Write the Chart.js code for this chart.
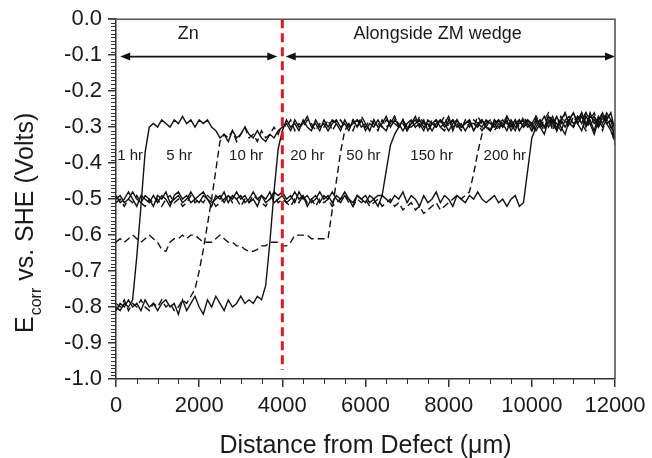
<!DOCTYPE html>
<html><head><meta charset="utf-8">
<script src="https://cdn.jsdelivr.net/npm/chart.js@4/dist/chart.umd.min.js"></script>
<style>html,body{margin:0;padding:0;background:#fff;}canvas{display:block;}</style>
</head><body>
<canvas id="c" width="652" height="458"></canvas>
<script>
// ---------- data (distance in µm, Ecorr in V vs SHE) ----------
const distance = [0,100,200,300,400,500,600,700,800,900,1000,1100,1200,1300,1400,1500,1600,1700,1800,1900,
2000,2100,2200,2300,2400,2500,2600,2700,2800,2900,3000,3100,3200,3300,3400,3500,3600,3700,3800,3900,
4000,4100,4200,4300,4400,4500,4600,4700,4800,4900,5000,5100,5200,5300,5400,5500,5600,5700,5800,5900,
6000,6100,6200,6300,6400,6500,6600,6700,6800,6900,7000,7100,7200,7300,7400,7500,7600,7700,7800,7900,
8000,8100,8200,8300,8400,8500,8600,8700,8800,8900,9000,9100,9200,9300,9400,9500,9600,9700,9800,9900,
10000,10100,10200,10300,10400,10500,10600,10700,10800,10900,11000,11100,11200,11300,11400,11500,11600,11700,11800,11900,12000];

const hr1 = [-0.80,-0.81,-0.79,-0.80,-0.78,-0.66,-0.52,-0.37,-0.30,
-0.29,-0.30,-0.28,-0.29,-0.30,-0.28,-0.29,-0.27,-0.29,-0.28,-0.30,-0.28,-0.29,-0.28,-0.30,-0.31,
-0.33,-0.32,-0.34,-0.31,-0.33,-0.32,-0.30,-0.32,-0.33,-0.31,-0.33,-0.34,-0.32,-0.33,-0.31,-0.30,
-0.29,-0.31,-0.28,-0.30,-0.29,-0.27,-0.30,-0.29,-0.31,-0.28,
-0.30,-0.28,-0.29,-0.31,-0.28,-0.30,-0.29,-0.28,-0.30,-0.29,
-0.31,-0.28,-0.30,-0.29,-0.27,-0.30,-0.28,-0.29,-0.31,-0.29,
-0.28,-0.30,-0.29,-0.31,-0.28,-0.29,-0.30,-0.28,-0.29,-0.31,
-0.29,-0.28,-0.30,-0.29,-0.28,-0.31,-0.29,-0.30,-0.28,-0.29,
-0.30,-0.28,-0.29,-0.31,-0.28,-0.30,-0.29,-0.28,-0.30,-0.29,
-0.31,-0.29,-0.27,-0.30,-0.28,-0.29,-0.31,-0.28,-0.27,-0.29,
-0.28,-0.26,-0.29,-0.27,-0.28,-0.30,-0.27,-0.29,-0.28,-0.33];

const hr5 = [-0.79,-0.80,-0.78,-0.81,-0.79,-0.80,-0.78,-0.80,-0.81,-0.79,-0.80,-0.78,-0.80,-0.79,-0.81,-0.80,-0.78,-0.79,-0.77,
-0.75,-0.70,-0.64,-0.57,-0.50,-0.42,-0.34,
-0.32,-0.33,-0.31,-0.34,-0.32,-0.30,-0.33,-0.32,-0.34,-0.31,-0.33,-0.32,-0.30,-0.32,-0.29,
-0.30,-0.28,-0.31,-0.29,-0.30,-0.28,-0.29,-0.31,-0.29,-0.30,
-0.28,-0.31,-0.29,-0.28,-0.30,-0.29,-0.31,-0.28,-0.29,-0.30,
-0.28,-0.29,-0.31,-0.28,-0.30,-0.29,-0.27,-0.30,-0.28,-0.31,
-0.29,-0.28,-0.30,-0.28,-0.31,-0.29,-0.28,-0.30,-0.31,-0.28,
-0.30,-0.29,-0.31,-0.28,-0.30,-0.28,-0.29,-0.31,-0.29,-0.28,
-0.29,-0.31,-0.28,-0.29,-0.30,-0.28,-0.31,-0.29,-0.28,-0.30,
-0.28,-0.30,-0.29,-0.27,-0.31,-0.28,-0.29,-0.26,-0.29,-0.30,
-0.27,-0.29,-0.31,-0.28,-0.26,-0.29,-0.31,-0.27,-0.30,-0.35];

const hr10 = [-0.81,-0.79,-0.80,-0.78,-0.80,-0.79,-0.81,-0.78,-0.80,-0.79,
-0.81,-0.79,-0.78,-0.80,-0.79,-0.82,-0.78,-0.81,-0.79,-0.77,
-0.80,-0.82,-0.78,-0.80,-0.77,-0.79,-0.81,-0.78,-0.80,-0.79,
-0.77,-0.79,-0.78,-0.79,-0.77,-0.78,
-0.74,-0.62,-0.48,-0.36,-0.31,
-0.28,-0.30,-0.29,-0.31,-0.28,-0.30,-0.31,-0.28,-0.30,-0.29,
-0.31,-0.29,-0.28,-0.30,-0.29,-0.31,-0.28,-0.30,-0.28,-0.31,
-0.29,-0.30,-0.28,-0.30,-0.31,-0.28,-0.29,-0.30,-0.28,-0.30,
-0.30,-0.29,-0.28,-0.30,-0.29,-0.31,-0.29,-0.28,-0.30,-0.29,
-0.28,-0.30,-0.29,-0.31,-0.29,-0.29,-0.30,-0.28,-0.30,-0.31,
-0.28,-0.29,-0.30,-0.28,-0.31,-0.29,-0.28,-0.30,-0.29,-0.31,
-0.29,-0.28,-0.30,-0.29,-0.27,-0.31,-0.28,-0.30,-0.28,-0.26,
-0.29,-0.27,-0.30,-0.26,-0.29,-0.28,-0.30,-0.28,-0.26,-0.31];

const hr20 = [-0.62,-0.61,-0.62,-0.61,-0.60,-0.61,-0.62,-0.61,-0.60,-0.61,
-0.62,-0.64,-0.645,-0.62,-0.61,-0.61,-0.60,-0.61,-0.60,-0.60,
-0.61,-0.62,-0.62,-0.62,-0.61,-0.60,-0.61,-0.62,-0.62,-0.63,
-0.63,-0.64,-0.645,-0.645,-0.64,-0.63,-0.63,-0.62,-0.62,-0.62,
-0.63,-0.63,-0.62,-0.60,-0.60,-0.60,-0.60,-0.61,-0.61,-0.61,
-0.61,-0.61,
-0.53,-0.45,-0.37,-0.31,
-0.29,-0.28,-0.30,-0.27,-0.29,-0.31,-0.28,-0.29,-0.30,-0.28,
-0.29,-0.27,-0.30,-0.29,-0.31,-0.28,-0.30,-0.27,-0.29,-0.30,
-0.28,-0.30,-0.29,-0.27,-0.30,-0.28,-0.29,-0.31,-0.28,-0.29,
-0.30,-0.27,-0.29,-0.30,-0.28,-0.31,-0.29,-0.28,-0.30,-0.29,
-0.28,-0.30,-0.27,-0.29,-0.31,-0.28,-0.30,-0.28,-0.26,-0.29,
-0.30,-0.27,-0.29,-0.28,-0.30,-0.27,-0.28,-0.26,-0.30,-0.27,
-0.29,-0.26,-0.28,-0.30,-0.32];

const hr50 = [-0.50,-0.49,-0.51,-0.50,-0.48,-0.50,-0.51,-0.49,-0.50,-0.52,
-0.49,-0.50,-0.48,-0.51,-0.50,-0.49,-0.51,-0.50,-0.48,-0.50,
-0.51,-0.49,-0.50,-0.52,-0.49,-0.50,-0.48,-0.51,-0.49,-0.50,
-0.49,-0.51,-0.50,-0.48,-0.50,-0.49,-0.51,-0.50,-0.48,-0.49,
-0.48,-0.50,-0.49,-0.51,-0.48,-0.50,-0.49,-0.51,-0.50,-0.48,
-0.50,-0.49,-0.51,-0.49,-0.50,-0.48,-0.50,-0.51,-0.49,-0.50,
-0.51,-0.49,-0.50,-0.49,
-0.49,-0.42,-0.35,-0.32,
-0.30,-0.28,-0.31,-0.29,-0.27,-0.30,-0.28,-0.31,-0.29,-0.28,
-0.30,-0.29,-0.27,-0.31,-0.28,-0.30,-0.29,-0.28,-0.31,-0.29,
-0.28,-0.30,-0.31,-0.29,-0.28,-0.30,-0.27,-0.29,-0.31,-0.28,
-0.30,-0.28,-0.29,-0.27,-0.30,-0.32,-0.28,-0.29,-0.27,-0.30,
-0.32,-0.28,-0.26,-0.29,-0.31,-0.27,-0.29,-0.32,-0.28,-0.26,
-0.29,-0.31,-0.34];

const hr150 = [-0.51,-0.50,-0.52,-0.50,-0.51,-0.49,-0.51,-0.52,-0.50,-0.51,
-0.50,-0.52,-0.50,-0.49,-0.51,-0.50,-0.52,-0.51,-0.49,-0.51,
-0.50,-0.51,-0.49,-0.50,-0.52,-0.51,-0.50,-0.49,-0.51,-0.50,
-0.52,-0.50,-0.51,-0.49,-0.50,-0.51,-0.52,-0.50,-0.49,-0.51,
-0.50,-0.51,-0.52,-0.50,-0.51,-0.49,-0.51,-0.50,-0.52,-0.50,
-0.51,-0.50,-0.52,-0.51,-0.50,-0.49,-0.51,-0.52,-0.50,-0.51,
-0.50,-0.52,-0.51,-0.50,-0.52,-0.51,-0.50,-0.52,-0.51,-0.53,
-0.52,-0.51,-0.53,-0.52,-0.54,-0.53,-0.52,-0.51,-0.53,-0.52,
-0.51,-0.50,-0.49,-0.50,-0.49,
-0.48,-0.43,-0.37,-0.32,
-0.29,-0.31,-0.28,-0.30,-0.29,-0.27,-0.30,-0.28,-0.31,-0.29,
-0.28,-0.30,-0.27,-0.29,-0.31,-0.28,-0.30,-0.27,-0.29,-0.28,
-0.30,-0.27,-0.29,-0.26,-0.30,-0.28,-0.27,-0.30,-0.28,-0.27,
-0.30,-0.33];

const hr200 = [-0.49,-0.51,-0.50,-0.48,-0.50,-0.52,-0.49,-0.50,-0.51,-0.49,
-0.51,-0.49,-0.50,-0.52,-0.49,-0.48,-0.50,-0.49,-0.51,-0.50,
-0.49,-0.48,-0.50,-0.51,-0.50,-0.49,-0.51,-0.49,-0.50,-0.48,
-0.50,-0.49,-0.51,-0.50,-0.52,-0.49,-0.50,-0.48,-0.51,-0.50,
-0.49,-0.51,-0.50,-0.48,-0.50,-0.49,-0.52,-0.50,-0.49,-0.51,
-0.49,-0.50,-0.48,-0.50,-0.51,-0.49,-0.50,-0.52,-0.49,-0.50,
-0.49,-0.51,-0.50,-0.52,-0.49,-0.50,-0.51,-0.49,-0.50,-0.48,
-0.51,-0.49,-0.50,-0.52,-0.49,-0.51,-0.50,-0.48,-0.51,-0.49,
-0.50,-0.52,-0.49,-0.50,-0.51,-0.49,-0.50,-0.48,-0.50,-0.51,
-0.50,-0.49,-0.51,-0.50,-0.52,-0.50,-0.49,-0.52,
-0.51,-0.42,-0.33,-0.30,
-0.28,-0.30,-0.27,-0.29,-0.31,-0.28,-0.26,-0.29,-0.30,-0.27,
-0.29,-0.26,-0.28,-0.31,-0.27,-0.29,-0.26,-0.28,-0.30];

const seriesNames = ['1 hr','5 hr','10 hr','20 hr','50 hr','150 hr','200 hr'];
const seriesValues = [hr1, hr5, hr10, hr20, hr50, hr150, hr200];
const seriesDashed = [false, true, false, true, false, true, false];

// annotations (data units)
const hourLabelX = [340, 1520, 3130, 4600, 5950, 7590, 9350];
const hourLabelY = -0.38;
const regionLabels = ['Zn', 'Alongside ZM wedge'];
const regionLabelX = [1735, 7735];
const regionLabelY = -0.042;
const arrowY = -0.104;
const arrowSpans = [[100, 3880], [4080, 12000]];
const boundaryX = 4000;
const boundaryY = [0, -0.975];

const FONT = "'Liberation Sans', Arial, Helvetica, sans-serif";
const INK = '#1a1a1a';

const decor = {
  id: 'decor',
  afterDatasetsDraw(chart) {
    const ctx = chart.ctx, xs = chart.scales.x, ys = chart.scales.y;
    ctx.save();
    ctx.fillStyle = INK;
    ctx.font = '15px ' + FONT;
    ctx.textAlign = 'center'; ctx.textBaseline = 'middle';
    seriesNames.forEach((n, i) => ctx.fillText(n, xs.getPixelForValue(hourLabelX[i]), ys.getPixelForValue(hourLabelY)));
    ctx.font = '18px ' + FONT;
    regionLabels.forEach((n, i) => ctx.fillText(n, xs.getPixelForValue(regionLabelX[i]), ys.getPixelForValue(regionLabelY)));
    ctx.strokeStyle = '#111'; ctx.fillStyle = '#111'; ctx.lineWidth = 1.6;
    const ay = ys.getPixelForValue(arrowY);
    const head = (x, dir) => {
      ctx.beginPath();
      ctx.moveTo(x, ay);
      ctx.lineTo(x - dir * 10, ay - 4);
      ctx.lineTo(x - dir * 10, ay + 4);
      ctx.closePath(); ctx.fill();
    };
    arrowSpans.forEach(([s, e]) => {
      const x1 = xs.getPixelForValue(s), x2 = xs.getPixelForValue(e);
      ctx.beginPath(); ctx.moveTo(x1 + 4, ay); ctx.lineTo(x2 - 4, ay); ctx.stroke();
      head(x1, -1); head(x2, 1);
    });
    ctx.strokeStyle = '#e3191f'; ctx.lineWidth = 3; ctx.setLineDash([9, 5]);
    const bx = xs.getPixelForValue(boundaryX);
    ctx.beginPath(); ctx.moveTo(bx, ys.getPixelForValue(boundaryY[0])); ctx.lineTo(bx, ys.getPixelForValue(boundaryY[1])); ctx.stroke();
    ctx.setLineDash([]);
    ctx.restore();
  },
  afterDraw(chart) {
    const ctx = chart.ctx, xs = chart.scales.x, ys = chart.scales.y, a = chart.chartArea;
    ctx.save();
    ctx.strokeStyle = '#555'; ctx.lineWidth = 1.6;
    ctx.beginPath();
    ctx.moveTo(a.left - 8, a.top); ctx.lineTo(a.right, a.top); ctx.lineTo(a.right, a.bottom);
    ctx.stroke();
    ctx.strokeStyle = '#333'; ctx.lineWidth = 1;
    for (let k = 0; k <= 100; k++) {
      if (k % 10 === 0) continue;
      const py = Math.round(ys.getPixelForValue(-k / 100)) + 0.5;
      ctx.beginPath(); ctx.moveTo(a.left - 5, py); ctx.lineTo(a.left, py); ctx.stroke();
    }
    for (let v = 500; v < 12000; v += 500) {
      if (v % 2000 === 0) continue;
      const px = Math.round(xs.getPixelForValue(v)) + 0.5;
      ctx.beginPath(); ctx.moveTo(px, a.bottom); ctx.lineTo(px, a.bottom + 5); ctx.stroke();
    }
    ctx.fillStyle = INK;
    ctx.textBaseline = 'alphabetic';
    ctx.font = '25px ' + FONT; ctx.textAlign = 'center';
    ctx.fillText('Distance from Defect (\u03bcm)', (a.left + a.right) / 2, 453);
    ctx.translate(33, 333); ctx.rotate(-Math.PI / 2);
    ctx.textAlign = 'left';
    ctx.font = '25px ' + FONT;
    ctx.fillText('E', 0, 0);
    let w = ctx.measureText('E').width;
    ctx.font = '16px ' + FONT;
    ctx.fillText('corr', w + 1, 8);
    w += 1 + ctx.measureText('corr').width;
    ctx.font = '25px ' + FONT;
    ctx.fillText(' vs. SHE (Volts)', w, 0);
    ctx.restore();
  }
};

new Chart(document.getElementById('c'), {
  type: 'line',
  data: {
    datasets: seriesValues.map((vals, i) => ({
      label: seriesNames[i],
      data: distance.map((x, j) => ({ x: x, y: vals[j] })),
      borderColor: '#111',
      borderWidth: 1.4,
      borderDash: seriesDashed[i] ? [7, 4] : [],
      pointRadius: 0,
      tension: 0,
      fill: false
    }))
  },
  options: {
    responsive: false,
    animation: false,
    devicePixelRatio: 1,
    layout: { padding: { left: 0, right: 37, top: 15, bottom: 0 } },
    plugins: { legend: { display: false }, tooltip: { enabled: false } },
    scales: {
      x: {
        type: 'linear', min: 0, max: 12000,
        ticks: { stepSize: 2000, callback: v => String(v), font: { family: FONT, size: 22 }, color: INK, padding: 6, maxRotation: 0, autoSkip: false },
        grid: { drawOnChartArea: false, drawTicks: true, tickLength: 8, color: '#333', lineWidth: 1.5 },
        border: { display: true, color: '#333', width: 1.5 },
        afterFit: s => { s.height = 79; }
      },
      y: {
        type: 'linear', min: -1, max: 0,
        ticks: { stepSize: 0.1, callback: v => (Math.abs(v) < 1e-9 ? '0.0' : v.toFixed(1)), font: { family: FONT, size: 22 }, color: INK, padding: 6, autoSkip: false },
        grid: { drawOnChartArea: false, drawTicks: true, tickLength: 8, color: '#333', lineWidth: 1.5 },
        border: { display: true, color: '#333', width: 1.5 },
        afterFit: s => { s.width = 116; }
      }
    }
  },
  plugins: [decor]
});
</script>
</body></html>
